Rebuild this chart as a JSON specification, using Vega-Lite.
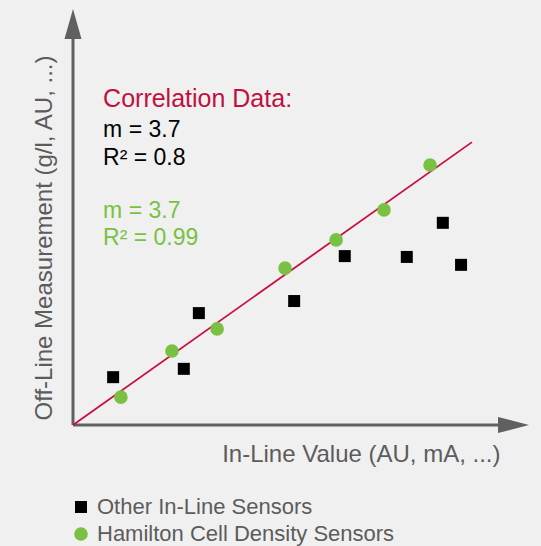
{
  "$schema": "https://vega.github.io/schema/vega-lite/v6.json",
  "width": 456,
  "height": 416,
  "autosize": {"type": "none"},
  "padding": {"left": 73, "top": 9, "right": 12, "bottom": 121},
  "background": "#f0f0f0",
  "config": {
    "view": {"stroke": null},
    "font": "Liberation Sans",
    "legend": {
      "orient": "none",
      "legendX": -3,
      "legendY": 487,
      "direction": "vertical",
      "title": null,
      "labelFont": "Liberation Sans",
      "labelFontSize": 22,
      "labelColor": "#5c5c5c",
      "labelLimit": 0,
      "symbolSize": 150,
      "rowPadding": 5,
      "labelOffset": 5,
      "padding": 0,
      "symbolStrokeWidth": 0
    }
  },
  "encoding": {
    "x": {
      "field": "x",
      "type": "quantitative",
      "scale": {"domain": [0, 10], "nice": false, "zero": false},
      "axis": {
        "domain": false, "ticks": false, "labels": false, "grid": false,
        "title": "In-Line Value (AU, mA, ...)",
        "titleFont": "Liberation Sans", "titleFontSize": 24, "titleFontWeight": "normal",
        "titleColor": "#5c5c5c", "titleAlign": "right", "titleBaseline": "alphabetic",
        "titleX": 427, "titleY": 36, "titleAnchor": null
      }
    },
    "y": {
      "field": "y",
      "type": "quantitative",
      "scale": {"domain": [0, 10], "nice": false, "zero": false},
      "axis": {
        "domain": false, "ticks": false, "labels": false, "grid": false,
        "title": "Off-Line Measurement (g/l, AU, ...)",
        "titleFont": "Liberation Sans", "titleFontSize": 24, "titleFontWeight": "normal",
        "titleColor": "#5c5c5c", "titleAlign": "left", "titleBaseline": "alphabetic",
        "titleAngle": -90, "titleX": -22, "titleY": 411, "titleAnchor": null
      }
    }
  },
  "layer": [
    {
      "data": {"values": [
        {"x": 0, "y": 0, "x2": 0, "y2": 9.3},
        {"x": 0, "y": 0, "x2": 9.35, "y2": 0}
      ]},
      "mark": {"type": "rule", "color": "#606060", "strokeWidth": 3, "strokeCap": "butt"},
      "encoding": {
        "x2": {"field": "x2"},
        "y2": {"field": "y2"}
      }
    },
    {
      "data": {"values": [{"x": 0, "y": 9.64}]},
      "mark": {"type": "point", "filled": true, "opacity": 1, "color": "#606060", "size": 900, "shape": "M0,-1L0.567,1L-0.567,1Z"}
    },
    {
      "data": {"values": [{"x": 9.66, "y": 0}]},
      "mark": {"type": "point", "filled": true, "opacity": 1, "color": "#606060", "size": 961, "shape": "M1,0L-1,0.516L-1,-0.516Z"}
    },
    {
      "data": {"values": [{"x": 0, "y": 0}, {"x": 8.75, "y": 6.8}]},
      "mark": {"type": "line", "color": "#c8103e", "strokeWidth": 1.8}
    },
    {
      "data": {"values": [
        {"series": "Other In-Line Sensors", "x": 0.88, "y": 1.15},
        {"series": "Other In-Line Sensors", "x": 2.43, "y": 1.35},
        {"series": "Other In-Line Sensors", "x": 2.76, "y": 2.69},
        {"series": "Other In-Line Sensors", "x": 4.85, "y": 2.98},
        {"series": "Other In-Line Sensors", "x": 5.96, "y": 4.06},
        {"series": "Other In-Line Sensors", "x": 7.32, "y": 4.04},
        {"series": "Other In-Line Sensors", "x": 8.11, "y": 4.86},
        {"series": "Other In-Line Sensors", "x": 8.51, "y": 3.85},
        {"series": "Hamilton Cell Density Sensors", "x": 1.05, "y": 0.67},
        {"series": "Hamilton Cell Density Sensors", "x": 2.17, "y": 1.78},
        {"series": "Hamilton Cell Density Sensors", "x": 3.16, "y": 2.31},
        {"series": "Hamilton Cell Density Sensors", "x": 4.65, "y": 3.77},
        {"series": "Hamilton Cell Density Sensors", "x": 5.77, "y": 4.45},
        {"series": "Hamilton Cell Density Sensors", "x": 6.82, "y": 5.17},
        {"series": "Hamilton Cell Density Sensors", "x": 7.83, "y": 6.25}
      ]},
      "mark": {"type": "point", "filled": true, "opacity": 1, "strokeWidth": 0},
      "encoding": {
        "color": {
          "field": "series", "type": "nominal",
          "scale": {"domain": ["Other In-Line Sensors", "Hamilton Cell Density Sensors"], "range": ["#000000", "#7ac143"]}
        },
        "shape": {
          "field": "series", "type": "nominal",
          "scale": {"domain": ["Other In-Line Sensors", "Hamilton Cell Density Sensors"], "range": ["square", "circle"]}
        },
        "size": {
          "field": "series", "type": "nominal",
          "scale": {"domain": ["Other In-Line Sensors", "Hamilton Cell Density Sensors"], "range": [144, 185]}
        }
      }
    },
    {
      "data": {"values": [{"x": 0.66, "y": 7.64, "label": "Correlation Data:"}]},
      "mark": {"type": "text", "align": "left", "baseline": "alphabetic", "font": "Liberation Sans", "fontSize": 25, "color": "#c0103f"},
      "encoding": {"text": {"field": "label"}}
    },
    {
      "data": {"values": [
        {"x": 0.66, "y": 6.92, "label": "m = 3.7"},
        {"x": 0.66, "y": 6.25, "label": "R² = 0.8"}
      ]},
      "mark": {"type": "text", "align": "left", "baseline": "alphabetic", "font": "Liberation Sans", "fontSize": 23, "color": "#000000"},
      "encoding": {"text": {"field": "label"}}
    },
    {
      "data": {"values": [
        {"x": 0.66, "y": 4.97, "label": "m = 3.7"},
        {"x": 0.66, "y": 4.33, "label": "R² = 0.99"}
      ]},
      "mark": {"type": "text", "align": "left", "baseline": "alphabetic", "font": "Liberation Sans", "fontSize": 23, "color": "#7ac143"},
      "encoding": {"text": {"field": "label"}}
    }
  ]
}
